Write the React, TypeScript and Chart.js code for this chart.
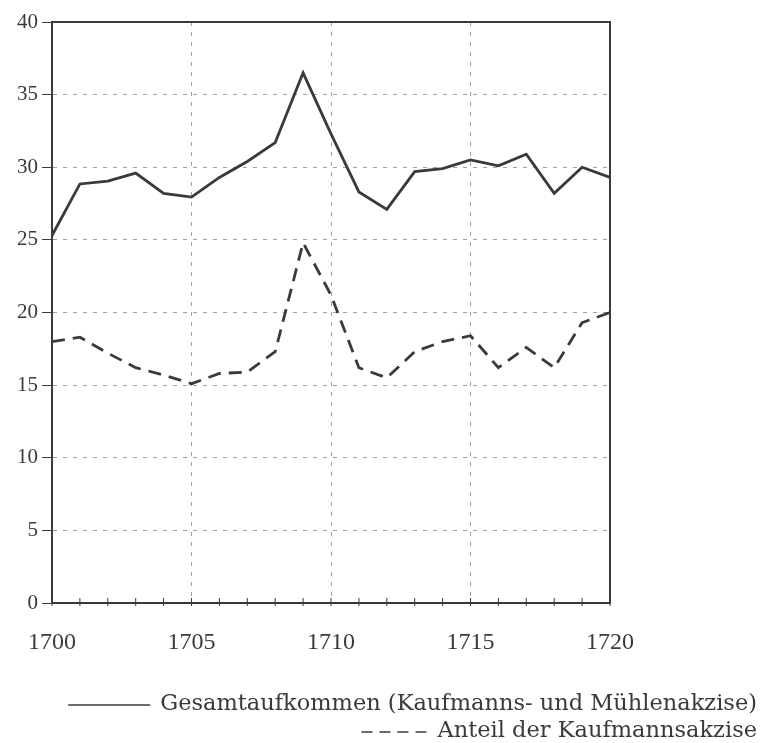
import React, { useEffect, useRef } from "react";
import { Chart, registerables } from "chart.js";

Chart.register(...registerables);

const years: number[] = [1700,1701,1702,1703,1704,1705,1706,1707,1708,1709,1710,1711,1712,1713,1714,1715,1716,1717,1718,1719,1720];
const gesamt: number[] = [25.3,28.85,29.05,29.6,28.2,27.95,29.3,30.4,31.7,36.5,32.3,28.3,27.1,29.7,29.9,30.5,30.1,30.9,28.2,30.0,29.3];
const kaufmann: number[] = [18.0,18.3,17.2,16.2,15.7,15.1,15.8,15.9,17.3,24.8,21.2,16.2,15.5,17.3,18.0,18.4,16.2,17.6,16.2,19.3,20.0];
const legendLabels: string[] = ["Gesamtaufkommen (Kaufmanns- und Mühlenakzise)", "Anteil der Kaufmannsakzise"];

const INK = "#3a3a3a";
const FONT = "'Liberation Serif', 'DejaVu Serif', serif";
const LEGEND_FONT = "'DejaVu Serif', serif";

const framePlugin = {
  id: "frameAndLegend",
  afterDraw(chart: any) {
    const { ctx, chartArea } = chart;
    const xs = chart.scales.x;
    ctx.save();
    ctx.strokeStyle = INK;
    ctx.lineWidth = 2;
    ctx.setLineDash([]);
    ctx.strokeRect(chartArea.left, chartArea.top, chartArea.right - chartArea.left, chartArea.bottom - chartArea.top);
    ctx.lineWidth = 1;
    for (let i = 0; i < years.length; i++) {
      const px = xs.getPixelForValue(i);
      ctx.beginPath();
      ctx.moveTo(px, chartArea.bottom - 5);
      ctx.lineTo(px, chartArea.bottom + 3);
      ctx.stroke();
    }
    ctx.fillStyle = INK;
    ctx.font = `22.5px ${LEGEND_FONT}`;
    ctx.textAlign = "right";
    ctx.textBaseline = "middle";
    const right = 757;
    const y1 = 704;
    const y2 = 731;
    ctx.fillText(legendLabels[0], right, y1);
    const w1 = ctx.measureText(legendLabels[0]).width;
    ctx.fillText(legendLabels[1], right, y2);
    const w2 = ctx.measureText(legendLabels[1]).width;
    ctx.lineWidth = 1.3;
    ctx.beginPath();
    ctx.moveTo(right - w1 - 92, y1 + 1);
    ctx.lineTo(right - w1 - 10, y1 + 1);
    ctx.stroke();
    ctx.setLineDash([11, 7]);
    ctx.beginPath();
    ctx.moveTo(right - w2 - 76, y2 + 1);
    ctx.lineTo(right - w2 - 6, y2 + 1);
    ctx.stroke();
    ctx.restore();
  },
};

export default function App() {
  const ref = useRef<HTMLCanvasElement | null>(null);
  useEffect(() => {
    if (!ref.current) return;
    const chart = new Chart(ref.current, {
      type: "line",
      data: {
        labels: years.map(String),
        datasets: [
          {
            label: legendLabels[0],
            data: gesamt,
            borderColor: INK,
            borderWidth: 2.8,
            pointRadius: 0,
            tension: 0,
            fill: false,
          },
          {
            label: legendLabels[1],
            data: kaufmann,
            borderColor: INK,
            borderWidth: 2.8,
            borderDash: [13, 8],
            pointRadius: 0,
            tension: 0,
            fill: false,
          },
        ],
      },
      options: {
        animation: false,
        responsive: false,
        layout: { padding: { top: 22, right: 151, left: 0, bottom: 0 } },
        plugins: { legend: { display: false }, tooltip: { enabled: false } },
        scales: {
          x: {
            type: "category",
            offset: false,
            afterFit(scale: any) { scale.height = 140; },
            grid: {
              color: (c: any) => {
                const i = c.index;
                return i % 5 === 0 && i !== 0 && i !== 20 ? "#a0a0a0" : "rgba(0,0,0,0)";
              },
              lineWidth: 1,
              drawTicks: false,
            },
            border: { display: true, color: INK, width: 2, dash: [4, 6] },
            ticks: {
              autoSkip: false,
              maxRotation: 0,
              padding: 25,
              color: INK,
              font: { family: FONT, size: 24 },
              callback: (_v: any, i: number) => (years[i] % 5 === 0 ? String(years[i]) : ""),
            },
          },
          y: {
            min: 0,
            max: 40,
            afterFit(scale: any) { scale.width = 52; },
            grid: {
              color: (c: any) => {
                const v = c.tick ? c.tick.value : 0;
                return v === 0 || v === 40 ? "rgba(0,0,0,0)" : "#a0a0a0";
              },
              tickColor: INK,
              tickLength: 10,
              lineWidth: 1,
            },
            border: { display: true, color: INK, width: 2, dash: [4, 6] },
            ticks: {
              stepSize: 5,
              padding: 4,
              color: INK,
              font: { family: FONT, size: 21 },
            },
          },
        },
      },
      plugins: [framePlugin],
    });
    return () => chart.destroy();
  }, []);
  return (
    <div style={{ position: "absolute", left: 0, top: 0, width: 761, height: 743, background: "#fff" }}>
      <canvas ref={ref} width={761} height={743} style={{ width: 761, height: 743 }} />
    </div>
  );
}
